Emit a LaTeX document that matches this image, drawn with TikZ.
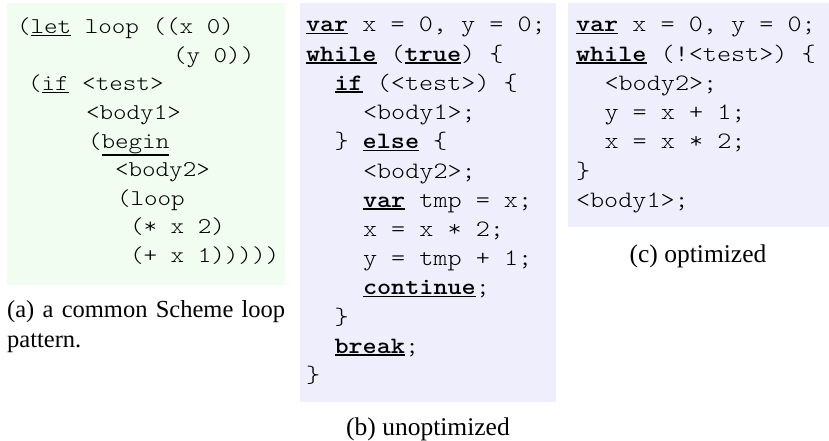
\documentclass[tikz,border=0pt]{standalone}
\usepackage{fontspec}
\usepackage{graphicx}
\newfontfamily\capfont{Liberation Serif}
\definecolor{boxa}{RGB}{240,253,240}
\definecolor{boxb}{RGB}{238,238,252}
\newcommand{\kwul}[2]{\setbox0\hbox{#2}\rlap{\rule[\dimexpr-\dp0-2.2pt\relax]{\wd0}{#1}}\box0\relax}
\newcommand{\kwb}[1]{\kwul{1.6pt}{\fontseries{b}\selectfont #1}}
\newcommand{\kwa}[1]{\kwul{1.2pt}{#1}}
\newcommand{\codeA}{\fontsize{22.6}{28.5}\ttfamily\fontseries{l}\selectfont}
\newcommand{\codeB}{\fontsize{23.5}{29.2}\ttfamily\fontseries{l}\selectfont}
\newcommand{\cl}[5]{\node[codeline] (#1) at (#2,-#3) {\scalebox{1.143}[1]{#4#5}};}
\tikzset{
  codeline/.style={anchor=base west, inner sep=0pt, outer sep=0pt},
  capline/.style={anchor=base, inner sep=0pt, outer sep=0pt, font=\capfont\fontsize{25.5}{30}\selectfont},
}
\begin{document}
\begin{tikzpicture}[x=1pt,y=1pt]
\useasboundingbox (0,0) rectangle (829,-441);
% boxes
\fill[boxa] (7,-3) coordinate (boxAnw) rectangle (285,-285) coordinate (boxAse);
\fill[boxb] (300,-3) coordinate (boxBnw) rectangle (556,-402) coordinate (boxBse);
\fill[boxb] (568,-3) coordinate (boxCnw) rectangle (829,-227) coordinate (boxCse);
% (a)
\cl{a1}{17}{34}{\codeA}{(\kwa{let} loop ((x 0)}
\cl{a2}{173}{62.5}{\codeA}{(y 0))}
\cl{a3}{28}{91}{\codeA}{(\kwa{if} <test>}
\cl{a4}{86}{119.5}{\codeA}{<body1>}
\cl{a5}{88}{148}{\codeA}{(\kwa{begin}}
\cl{a6}{115}{176.5}{\codeA}{<body2>}
\cl{a7}{117}{205}{\codeA}{(loop}
\cl{a8}{130}{233.5}{\codeA}{(* x 2)}
\cl{a9}{130}{262}{\codeA}{(+ x 1)))))}
% (b)
\cl{b1}{306}{32}{\codeB}{\kwb{var} x = 0, y = 0;}
\cl{b2}{306}{61.2}{\codeB}{\kwb{while} (\kwb{true}) \{}
\cl{b3}{334.5}{90.4}{\codeB}{\kwb{if} (<test>) \{}
\cl{b4}{363}{119.6}{\codeB}{<body1>;}
\cl{b5}{334.5}{148.8}{\codeB}{\} \kwb{else} \{}
\cl{b6}{363}{178}{\codeB}{<body2>;}
\cl{b7}{363}{207.2}{\codeB}{\kwb{var} tmp = x;}
\cl{b8}{363}{236.4}{\codeB}{x = x * 2;}
\cl{b9}{363}{265.6}{\codeB}{y = tmp + 1;}
\cl{b10}{363}{294.8}{\codeB}{\kwb{continue};}
\cl{b11}{334.5}{324}{\codeB}{\}}
\cl{b12}{334.5}{353.2}{\codeB}{\kwb{break};}
\cl{b13}{306}{382.4}{\codeB}{\}}
% (c)
\cl{c1}{576}{32}{\codeB}{\kwb{var} x = 0, y = 0;}
\cl{c2}{576}{61.2}{\codeB}{\kwb{while} (!<test>) \{}
\cl{c3}{604.5}{90.4}{\codeB}{<body2>;}
\cl{c4}{604.5}{119.6}{\codeB}{y = x + 1;}
\cl{c5}{604.5}{148.8}{\codeB}{x = x * 2;}
\cl{c6}{576}{178}{\codeB}{\}}
\cl{c7}{576}{207.2}{\codeB}{<body1>;}
% captions
\node[anchor=base west, inner sep=0pt] (capA) at (7,-317)
  {\parbox[t]{278pt}{\capfont\fontsize{24.5}{30}\selectfont (a) a common Scheme loop \mbox{pattern.}}};
\node[capline] (capB) at (428,-435) {(b) unoptimized};
\node[capline] (capC) at (698,-262) {(c) optimized};
\end{tikzpicture}
\end{document}
